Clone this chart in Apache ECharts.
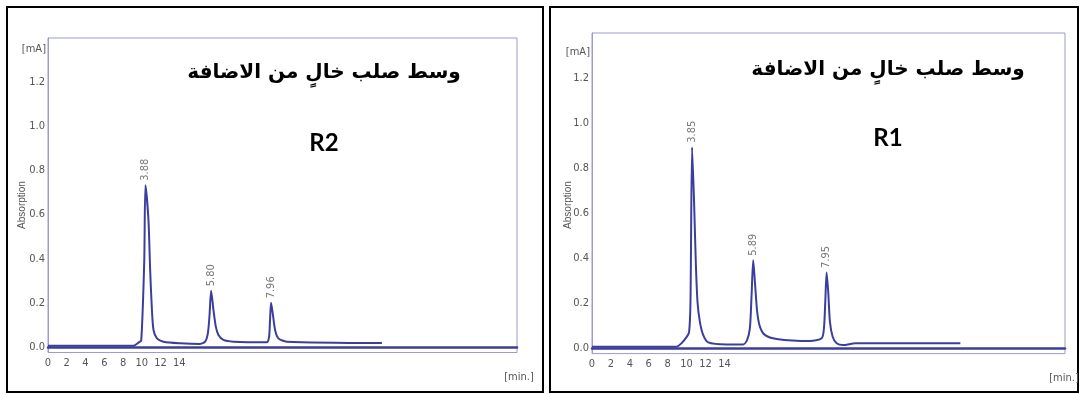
<!DOCTYPE html>
<html>
<head>
<meta charset="utf-8">
<script src="https://cdn.jsdelivr.net/npm/echarts@6/dist/echarts.min.js"></script>
<style>
html,body{margin:0;padding:0;background:#fff;}
#c{width:1081px;height:394px;}
</style>
</head>
<body>
<div id="c"></div>
<script>
// ---- data (x in axis units of the printed time scale, y absorbance in mA) ----
var xTicks = [0, 2, 4, 6, 8, 10, 12, 14];
var yTicks = [0, 0.2, 0.4, 0.6, 0.8, 1.0, 1.2];

// R2 chromatogram (left panel)
var r2X = [0, 9.12, 9.65, 9.94, 10.26, 10.39, 10.71, 10.89, 11.08, 11.25, 11.61, 12.31, 14.09, 16.22,
           16.75, 17.04, 17.21, 17.39, 17.64, 17.89, 18.17, 18.70, 19.77, 23.32,
           23.57, 23.67, 23.78, 23.96, 24.21, 24.56, 25.45, 35.6];
var r2Y = [0.006, 0.006, 0.02, 0.03, 0.39, 0.733, 0.575, 0.35, 0.167, 0.077, 0.039, 0.024, 0.017, 0.014,
           0.024, 0.062, 0.137, 0.255, 0.167, 0.092, 0.054, 0.032, 0.024, 0.021,
           0.047, 0.122, 0.2, 0.152, 0.077, 0.039, 0.024, 0.018];
var r2PeakX = [10.39, 17.39, 23.78];
var r2PeakY = [0.733, 0.255, 0.2];
var r2PeakText = ['3.88', '5.80', '7.96'];

// R1 chromatogram (right panel)
var r1X = [0, 8.93, 9.46, 9.99, 10.26, 10.41, 10.58, 10.79, 10.97, 11.15, 11.40, 11.75, 12.28, 14.22, 15.98,
           16.40, 16.69, 16.87, 17.04, 17.22, 17.46, 17.75, 18.27, 19.51, 23.04,
           24.28, 24.52, 24.66, 24.80, 24.97, 25.15, 25.44, 25.86, 26.53, 27.85, 38.94];
var r1Y = [0.006, 0.006, 0.021, 0.048, 0.069, 0.206, 0.892, 0.65, 0.384, 0.206, 0.117, 0.058, 0.025, 0.016, 0.016,
           0.036, 0.088, 0.236, 0.39, 0.295, 0.161, 0.095, 0.058, 0.04, 0.031,
           0.043, 0.088, 0.206, 0.336, 0.25, 0.117, 0.05, 0.021, 0.013, 0.021, 0.021];
var r1PeakX = [10.58, 17.04, 24.80];
var r1PeakY = [0.892, 0.39, 0.336];
var r1PeakText = ['3.85', '5.89', '7.95'];

var panelTitle = 'وسط صلب خالٍ من الاضافة';
var panelNames = ['R2', 'R1'];
var yName = '[mA]';
var yLabelName = 'Absorption';
var xName = '[min.]';

// ---- styling ----
var lineColor = '#3b3e9e';
var frameColor = '#9b9bcc';
var axisColor = '#3d3f95';
var labelFont = "'DejaVu Sans Condensed','Liberation Sans Narrow',sans-serif";
var labelColor = '#555';

function pairs(xs, ys) { return xs.map(function (x, i) { return [x, ys[i]]; }); }
function peakData(xs, ys, t) { return xs.map(function (x, i) { return [x, ys[i], t[i]]; }); }

var grids = [
  {left: 48, top: 38, width: 469, height: 314.5},
  {left: 592, top: 33, width: 473, height: 320.6}
];

function xAx(i) {
  return {
    type: 'value', gridIndex: i, min: 0, max: 50,
    axisLine: {show: true, lineStyle: {color: axisColor, width: 2.5}},
    axisTick: {show: false},
    splitLine: {show: false},
    axisLabel: {customValues: xTicks, color: labelColor, fontFamily: labelFont, fontSize: 11, margin: 5,
      formatter: function (v) { return String(Math.round(v)); }}
  };
}
function yAx(i) {
  return {
    type: 'value', gridIndex: i, min: -0.025, max: 1.4,
    axisLine: {show: true, lineStyle: {color: frameColor, width: 1}},
    axisTick: {show: false},
    splitLine: {show: false},
    axisLabel: {customValues: yTicks, color: labelColor, fontFamily: labelFont, fontSize: 11, margin: 3,
      formatter: function (v) { return v.toFixed(1); }}
  };
}

function lineSeries(i, xs, ys) {
  return {
    type: 'line', xAxisIndex: i, yAxisIndex: i, data: pairs(xs, ys),
    symbol: 'none', showSymbol: false, smooth: 0.25,
    lineStyle: {color: lineColor, width: 2}, silent: true, z: 3
  };
}
function peakSeries(i, xs, ys, t) {
  return {
    type: 'scatter', xAxisIndex: i, yAxisIndex: i, data: peakData(xs, ys, t),
    symbol: 'circle', symbolSize: 1, silent: true,
    itemStyle: {color: 'rgba(0,0,0,0)'},
    label: {show: true, position: 'top', rotate: 90, align: 'left', verticalAlign: 'middle', distance: 4,
      color: labelColor, fontSize: 11, fontFamily: labelFont,
      formatter: function (p) { return p.data[2]; }}
  };
}

function txt(x, y, s, font, color, extra) {
  var st = {text: s, font: font, fill: color, textAlign: 'center', textVerticalAlign: 'middle'};
  var o = {type: 'text', x: x, y: y, silent: true, style: st};
  if (extra) {
    for (var k in extra) {
      if (k === 'align') st.textAlign = extra[k]; else o[k] = extra[k];
    }
  }
  return o;
}

var smallFont = "11px 'DejaVu Sans Condensed','Liberation Sans Narrow',sans-serif";
var absFont = "10px 'Liberation Sans','DejaVu Sans',sans-serif";
var arFont = "bold 20px 'DejaVu Sans',sans-serif";
var rFont = "bold 24px Lato,'Open Sans',sans-serif";

var graphic = [
  {type: 'rect', shape: {x: 7, y: 7, width: 536, height: 385}, style: {fill: 'none', stroke: '#000', lineWidth: 2}, silent: true},
  {type: 'rect', shape: {x: 550, y: 7, width: 528, height: 385}, style: {fill: 'none', stroke: '#000', lineWidth: 2}, silent: true},
  // left panel texts
  txt(46, 49, yName, smallFont, labelColor, {align: 'right'}),
  txt(22.5, 205, yLabelName, absFont, labelColor, {rotation: Math.PI / 2}),
  txt(519, 377, xName, smallFont, labelColor),
  txt(324, 73, panelTitle, arFont, '#000'),
  txt(324, 143.5, panelNames[0], rFont, '#000'),
  // right panel texts
  txt(590, 52, yName, smallFont, labelColor, {align: 'right'}),
  txt(568, 205, yLabelName, absFont, labelColor, {rotation: Math.PI / 2}),
  txt(1064, 378, xName, smallFont, labelColor),
  txt(888, 70, panelTitle, arFont, '#000'),
  txt(888, 138.5, panelNames[1], rFont, '#000')
];

var chart = echarts.init(document.getElementById('c'), null, {renderer: 'canvas'});
chart.setOption({
  backgroundColor: '#fff',
  animation: false,
  grid: grids.map(function (g) {
    return {left: g.left, top: g.top, width: g.width, height: g.height, show: true,
      borderColor: frameColor, borderWidth: 1, backgroundColor: 'transparent'};
  }),
  xAxis: [xAx(0), xAx(1)],
  yAxis: [yAx(0), yAx(1)],
  series: [
    lineSeries(0, r2X, r2Y),
    peakSeries(0, r2PeakX, r2PeakY, r2PeakText),
    lineSeries(1, r1X, r1Y),
    peakSeries(1, r1PeakX, r1PeakY, r1PeakText)
  ],
  graphic: graphic
});
</script>
</body>
</html>
